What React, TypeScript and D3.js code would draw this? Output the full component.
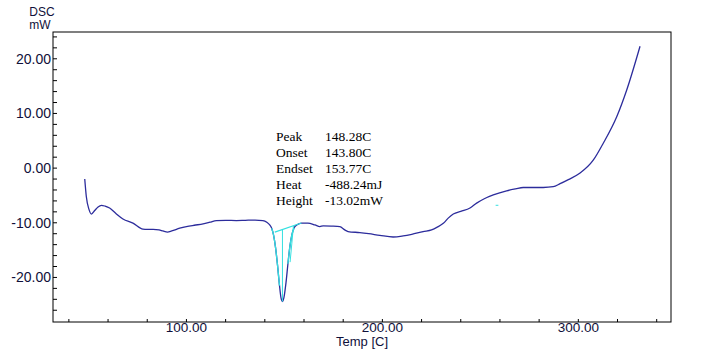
import React from 'react';
import * as d3 from 'd3';

// DSC scan
const temps = [
  48.1, 48.9, 50.3, 51.5, 53.2, 54.9, 56.6, 58.5, 60.8, 64, 67.6, 72.7, 77.8, 80, 83, 86, 88, 90.3,
  92.5, 96.6, 100, 104, 108.5, 112, 115.3, 120, 125.5, 130, 135, 139, 141, 142.5, 143.5, 144.5,
  145.5, 146.5, 147.5, 148.3, 149, 149.8, 150.8, 151.8, 152.8, 153.8, 155, 156.5, 158.7, 162,
  165.6, 168.1, 169.8, 174, 178.3, 180.8, 182.5, 188.5, 193, 198.7, 205.5, 210.6, 215, 220.8,
  225.1, 228, 231.1, 233.6, 236.2, 240, 244.7, 248.1, 252, 256.6, 263.4, 268, 271.9, 277, 282.1,
  287.2, 290.7, 294.9, 300.9, 307.7, 312.8, 319.6, 324.7, 331.5,
];
const dsc = [
  -2.0, -5.2, -7.6, -8.4, -7.75, -7.1, -6.8, -6.95, -7.3, -8.3, -9.3, -10.05, -11.15, -11.2, -11.2,
  -11.3, -11.5, -11.7, -11.5, -11.0, -10.7, -10.45, -10.2, -9.9, -9.6, -9.55, -9.6, -9.55, -9.5,
  -9.6, -9.9, -10.4, -11.0, -12.3, -14.6, -17.8, -21.5, -23.8, -24.4, -23.6, -21.0, -17.5, -14.3,
  -12.2, -10.9, -10.35, -10.05, -10.05, -10.4, -10.7, -10.55, -10.6, -10.7, -11.3, -11.6, -11.8,
  -12.0, -12.3, -12.6, -12.4, -12.1, -11.6, -11.3, -10.8, -10.1, -9.15, -8.4, -7.9, -7.3, -6.4,
  -5.6, -4.9, -4.15, -3.8, -3.55, -3.55, -3.55, -3.4, -2.85, -2.1, -0.9, 1.5, 4.6, 9.4, 14.3, 22.3,
];

// peak analysis overlay
const baseline: [number, number][] = [[145.1, -11.7], [158.7, -10.05]];
const peakDrop: [number, number][] = [[149, -11.25], [149, -24.4]];
const endsetTangent: [number, number][] = [[154.6, -10.6], [152.9, -17.2]];
const strayMark: [number, number][] = [[257.8, -6.8], [259.2, -6.8]];
const peakSides: [number, number][] = [[143.5, 147.6], [151.0, 155.5]];

const resultNames = ['Peak', 'Onset', 'Endset', 'Heat', 'Height'];
const resultValues = ['148.28C', '143.80C', '153.77C', '-488.24mJ', '-13.02mW'];

const xTickLabels = [100, 200, 300];
const yTickLabels = [20, 10, 0, -10, -20];

const W = 702;
const H = 352;

export default function App() {
  const x = d3.scaleLinear().domain([31.9, 347.3]).range([53, 671]);
  const y = d3.scaleLinear().domain([-28.15, 24.9]).range([322, 32]);

  const pts: [number, number][] = temps.map((t, i) => [t, dsc[i]]);
  const line = d3
    .line<[number, number]>()
    .x((d) => x(d[0]))
    .y((d) => y(d[1]))
    .curve(d3.curveMonotoneX);
  const straight = d3
    .line<[number, number]>()
    .x((d) => x(d[0]))
    .y((d) => y(d[1]));

  const minorX = d3.range(40, 347, 20);
  const minorY = d3.range(-26, 25, 2);
  const font = 'Liberation Sans, Arial, sans-serif';
  const cyan = '#33e0e0';

  return (
    <svg
      width={W}
      height={H}
      style={{ position: 'absolute', left: 0, top: 0, background: '#fff' }}
    >
      {/* frame */}
      <rect x={53} y={32} width={618} height={290} fill="none" stroke="#000" strokeWidth={1} />

      {/* ticks */}
      {minorY.map((v) => (
        <line key={'yt' + v} x1={53} x2={57} y1={y(v)} y2={y(v)} stroke="#000" />
      ))}
      {minorX.map((v) => (
        <line key={'xt' + v} x1={x(v)} x2={x(v)} y1={322} y2={319} stroke="#000" />
      ))}

      {/* tick labels */}
      {yTickLabels.map((v) => (
        <text
          key={'yl' + v}
          x={51}
          y={y(v) + 5}
          textAnchor="end"
          fontFamily={font}
          fontSize={14}
          fill="#10103a"
        >
          {v.toFixed(2)}
        </text>
      ))}
      {xTickLabels.map((v) => (
        <text
          key={'xl' + v}
          x={x(v)}
          y={332}
          textAnchor="middle"
          fontFamily={font}
          fontSize={13.5}
          fill="#10103a"
        >
          {v.toFixed(2)}
        </text>
      ))}

      {/* axis titles */}
      <text x={362} y={346} textAnchor="middle" fontFamily={font} fontSize={13} fill="#10103a">
        Temp [C]
      </text>
      <text x={42} y={16} textAnchor="middle" fontFamily={font} fontSize={12} fill="#10103a">
        DSC
      </text>
      <text x={40} y={29} textAnchor="middle" fontFamily={font} fontSize={12} fill="#10103a">
        mW
      </text>

      {/* data */}
      <path d={line(pts) ?? ''} fill="none" stroke="#2c2c9c" strokeWidth={1.3} />

      {/* peak analysis */}
      {peakSides.map(([a, b], i) => (
        <path
          key={'ps' + i}
          d={line(pts.filter((p) => p[0] >= a && p[0] <= b)) ?? ''}
          fill="none"
          stroke={cyan}
          strokeWidth={1.3}
        />
      ))}
      <path d={straight(baseline) ?? ''} stroke={cyan} strokeWidth={1.2} fill="none" />
      <path d={straight(peakDrop) ?? ''} stroke={cyan} strokeWidth={1} fill="none" />
      <path d={straight(endsetTangent) ?? ''} stroke={cyan} strokeWidth={1} fill="none" />
      <path d={straight(strayMark) ?? ''} stroke={cyan} strokeWidth={1} fill="none" />

      {resultNames.map((n, i) => (
        <g key={n} fontFamily="Liberation Serif, Times New Roman, serif" fontSize={13.5} fill="#000">
          <text x={276} y={141 + i * 16}>
            {n}
          </text>
          <text x={325} y={141 + i * 16}>
            {resultValues[i]}
          </text>
        </g>
      ))}
    </svg>
  );
}
